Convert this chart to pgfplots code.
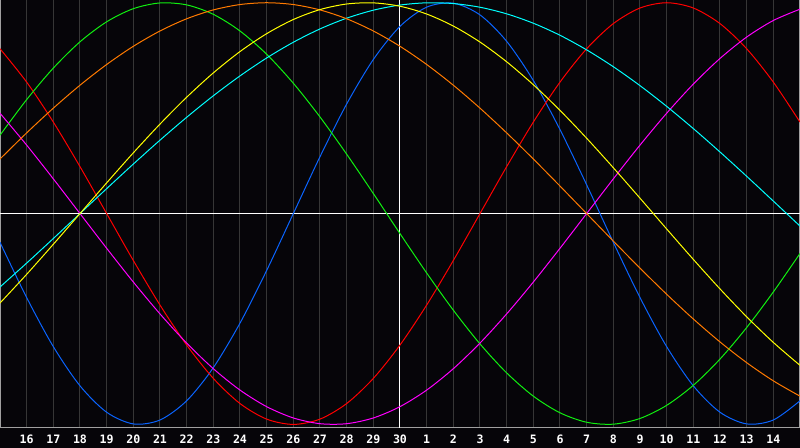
\documentclass[border=0pt]{standalone}
\usepackage{fontspec}
\usepackage{xcolor}
\usepackage{pgfplots}
\pgfplotsset{compat=1.18}
\newfontfamily\labelfont{DejaVu Sans Mono}

\definecolor{bg}{HTML}{060509}
\definecolor{gridgray}{HTML}{363636}
\definecolor{framegray}{HTML}{A0A0A0}
\definecolor{cBlue}{HTML}{0A64FF}
\definecolor{cRed}{HTML}{FF0000}
\definecolor{cGreen}{HTML}{10F010}
\definecolor{cMagenta}{HTML}{FF00FF}
\definecolor{cYellow}{HTML}{FFFF00}
\definecolor{cOrange}{HTML}{FF7A00}
\definecolor{cCyan}{HTML}{00FFFF}

% one value per day, x = 0..30 (day 15 .. day 15 of next month)
\pgfplotstableread{
x  p23     p28     p33     p38     p43     p48     p53
0  -0.1362  0.7818  0.3717  0.4759 -0.4245  0.2588 -0.3482
1  -0.3984  0.6235  0.5406  0.3247 -0.2881  0.3827 -0.2349
2  -0.6311  0.4339  0.6901  0.1646 -0.1456  0.5000 -0.1183
3  -0.8170  0.2225  0.8146  0.0000  0.0000  0.6088  0.0000
4  -0.9423  0.0000  0.9096 -0.1646  0.1456  0.7071  0.1183
5  -0.9977 -0.2225  0.9718 -0.3247  0.2881  0.7934  0.2349
6  -0.9791 -0.4339  0.9989 -0.4759  0.4245  0.8660  0.3482
7  -0.8879 -0.6235  0.9898 -0.6142  0.5518  0.9239  0.4566
8  -0.7308 -0.7818  0.9450 -0.7357  0.6672  0.9659  0.5587
9  -0.5196 -0.9010  0.8660 -0.8372  0.7684  0.9914  0.6529
10 -0.2698 -0.9749  0.7557 -0.9158  0.8533  1.0000  0.7380
11  0.0000 -1.0000  0.6182 -0.9694  0.9204  0.9914  0.8126
12  0.2698 -0.9749  0.4582 -0.9966  0.9675  0.9659  0.8758
13  0.5196 -0.9010  0.2817 -0.9966  0.9940  0.9239  0.9267
14  0.7308 -0.7818  0.0951 -0.9694  0.9993  0.8660  0.9646
15  0.8879 -0.6235 -0.0951 -0.9158  0.9834  0.7934  0.9890
16  0.9791 -0.4339 -0.2817 -0.8372  0.9465  0.7071  0.9996
17  0.9977 -0.2225 -0.4582 -0.7357  0.8894  0.6088  0.9961
18  0.9423  0.0000 -0.6182 -0.6142  0.8135  0.5000  0.9786
19  0.8170  0.2225 -0.7557 -0.4759  0.7199  0.3827  0.9473
20  0.6311  0.4339 -0.8660 -0.3247  0.6111  0.2588  0.9028
21  0.3984  0.6235 -0.9450 -0.1646  0.4895  0.1305  0.8457
22  0.1362  0.7818 -0.9898  0.0000  0.3572  0.0000  0.7764
23 -0.1362  0.9010 -0.9989  0.1646  0.2174 -0.1305  0.6965
24 -0.3984  0.9749 -0.9718  0.3247  0.0730 -0.2588  0.6068
25 -0.6311  1.0000 -0.9096  0.4759 -0.0730 -0.3827  0.5085
26 -0.8170  0.9749 -0.8146  0.6142 -0.2174 -0.5000  0.4031
27 -0.9423  0.9010 -0.6901  0.7357 -0.3572 -0.6088  0.2921
28 -0.9977  0.7818 -0.5406  0.8372 -0.4895 -0.7071  0.1769
29 -0.9791  0.6235 -0.3717  0.9158 -0.6111 -0.7934  0.0592
30 -0.8879  0.4339 -0.1893  0.9694 -0.7199 -0.8660 -0.0592
}\cycles

\begin{document}
\begin{tikzpicture}
\fill[bg] (0,-10pt) rectangle (400pt,214pt);
\begin{axis}[
  at={(0,0)}, anchor=south west,
  scale only axis,
  width=400pt, height=214pt,
  xmin=0, xmax=30,
  ymin=-1.017, ymax=1.013,
  xtick={1,...,29},
  xticklabels={16,17,18,19,20,21,22,23,24,25,26,27,28,29,30,1,2,3,4,5,6,7,8,9,10,11,12,13,14},
  ytick=\empty,
  major tick length=0pt,
  xmajorgrids,
  major grid style={draw=gridgray, line width=0.5pt},
  axis line style={draw=framegray, line width=0.5pt},
  xticklabel style={font=\labelfont\bfseries\fontsize{5.8}{6}\selectfont, text=white, anchor=center, yshift=-5.6pt},
  every axis plot/.append style={line width=0.5pt, smooth, no markers},
]
\draw[white, line width=0.5pt] (axis cs:15,-1.1) -- (axis cs:15,1.1);
\draw[white, line width=0.5pt] (axis cs:0,0) -- (axis cs:30,0);
\addplot[cBlue] table[x=x, y=p23] {\cycles};
\addplot[cRed] table[x=x, y=p28] {\cycles};
\addplot[cGreen] table[x=x, y=p33] {\cycles};
\addplot[cMagenta] table[x=x, y=p38] {\cycles};
\addplot[cCyan] table[x=x, y=p53] {\cycles};
\addplot[cOrange] table[x=x, y=p48] {\cycles};
\addplot[cYellow] table[x=x, y=p43] {\cycles};
\end{axis}
\pgfresetboundingbox
\path[use as bounding box] (0,-10pt) rectangle (400pt,214pt);
\end{tikzpicture}
\end{document}
